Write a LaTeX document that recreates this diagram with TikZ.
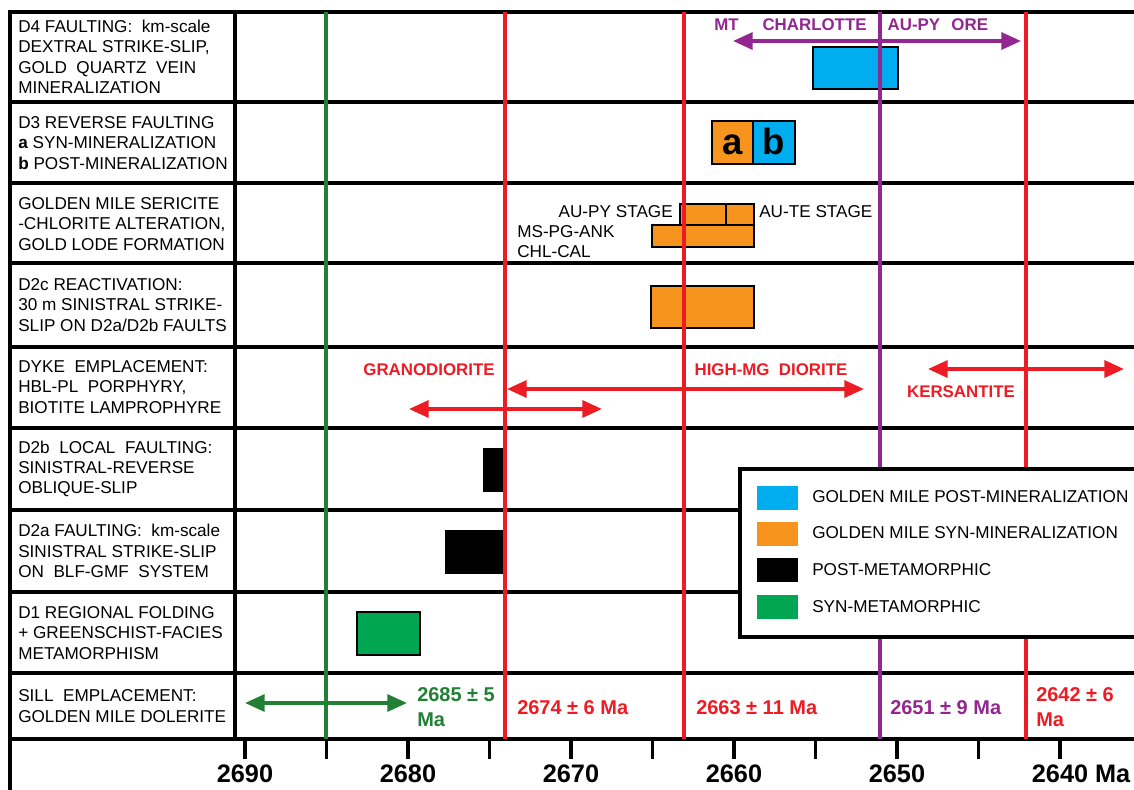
\documentclass[tikz,border=0pt]{standalone}
\usepackage{fontspec}
\setmainfont{Liberation Sans}
\usepackage{tikz}
\usepackage{xcolor}
\usetikzlibrary{arrows.meta}

\definecolor{postblue}{RGB}{0,174,239}
\definecolor{synorange}{RGB}{247,148,29}
\definecolor{metagreen}{RGB}{0,166,81}
\definecolor{sillgreen}{RGB}{34,128,52}
\definecolor{agered}{RGB}{237,28,36}
\definecolor{agepurple}{RGB}{146,39,143}

\begin{document}
\begin{tikzpicture}[
  x=0.025cm, y=-0.025cm,
  font=\fontsize{12.2}{14.5}\selectfont,
  grid/.style={line width=2.8pt, line cap=rect},
  age/.style={line width=2.2pt},
  bar/.style={draw, line width=1.4pt},
  rowtxt/.style={anchor=west, align=left, inner sep=0pt},
  txt/.style={inner sep=0pt},
  dbl/.style={line width=2.6pt, {Triangle[length=14pt,width=12pt]}-{Triangle[length=14pt,width=12pt]}},
  lab/.style={font=\bfseries\fontsize{12}{14}\selectfont, inner sep=0pt},
  date/.style={font=\bfseries\fontsize{14.2}{17.5}\selectfont, anchor=west, align=left, inner sep=0pt},
  axlab/.style={font=\bfseries\fontsize{18}{20}\selectfont, inner sep=0pt},
]
\useasboundingbox (0,0) rectangle (1134,790);
\clip (0,0) rectangle (1134,790);
\fill[white] (0,0) rectangle (1134,790);
% rows, frame, first column
\foreach \yy in {12,102,183,263,347,428,510,592,673,739}
  \draw[grid] (10,\yy) -- (1150,\yy);
\draw[grid] (10,12) -- (10,800);
\draw[grid] (235,12) -- (235,739);
% time axis
\foreach \i in {0,...,10}
  \draw[grid] (245+\i*81.5,739) -- ++(0,18);
\foreach \t [count=\i from 0] in {2690,2680,2670,2660,2650}
  \node[axlab] (tick\t) at (245+\i*163,774) {\t};
\node[axlab] (tick2640) at (1060,774) {2640\rlap{\ Ma}};
% events, left column
\node[rowtxt] (d4) at (18,57) {D4 FAULTING:\ \ km-scale\\DEXTRAL STRIKE-SLIP,\\GOLD\ \ QUARTZ\ \ VEIN\\MINERALIZATION};
\node[rowtxt] (d3) at (18,143) {D3 REVERSE FAULTING\\\textbf{a} SYN-MINERALIZATION\\\textbf{b} POST-MINERALIZATION};
\node[rowtxt] (lode) at (18,224) {GOLDEN MILE SERICITE\\-CHLORITE ALTERATION,\\GOLD LODE FORMATION};
\node[rowtxt] (d2c) at (18,305) {D2c REACTIVATION:\\30 m SINISTRAL STRIKE-\\SLIP ON D2a/D2b FAULTS};
\node[rowtxt] (dyke) at (18,387) {DYKE\ \ EMPLACEMENT:\\HBL-PL\ \ PORPHYRY,\\BIOTITE LAMPROPHYRE};
\node[rowtxt] (d2b) at (18,469) {D2b\ \ LOCAL\ \ FAULTING:\\SINISTRAL-REVERSE\\OBLIQUE-SLIP};
\node[rowtxt] (d2a) at (18,551) {D2a FAULTING:\ \ km-scale\\SINISTRAL STRIKE-SLIP\\ON\ \ BLF-GMF\ \ SYSTEM};
\node[rowtxt] (d1) at (18,633) {D1 REGIONAL FOLDING\\+ GREENSCHIST-FACIES\\METAMORPHISM};
\node[rowtxt] (sill) at (18,706) {SILL\ \ EMPLACEMENT:\\GOLDEN MILE DOLERITE};
% bars
\draw[bar, fill=postblue] (813,47) rectangle (898,89);
\draw[bar, fill=synorange] (712,121) rectangle (753,164);
\draw[bar, fill=postblue] (753,121) rectangle (795,164);
\node[font=\bfseries\fontsize{26}{28}\selectfont, anchor=base, inner sep=0pt] (d3a) at (732.5,154) {a};
\node[font=\bfseries\fontsize{26}{28}\selectfont, anchor=base, inner sep=0pt] (d3b) at (774,154) {b};
\draw[bar, fill=synorange] (680,204) rectangle (754,225);
\draw[bar] (726,204) -- (726,225);
\draw[bar, fill=synorange] (652,225) rectangle (754,247);
\node[txt, anchor=east] (aupy) at (673,212) {AU-PY STAGE};
\node[txt, anchor=west] (aute) at (759,212) {AU-TE STAGE};
\node[txt, anchor=west] (mspg) at (517,232) {MS-PG-ANK};
\node[txt, anchor=west] (chl) at (517,252) {CHL-CAL};
\draw[bar, fill=synorange] (651,286) rectangle (754,328);
\fill (483,448) rectangle (504,492);
\fill (445,530) rectangle (504,574);
\draw[bar, fill=metagreen] (357,612) rectangle (420,655);
% dated lines
\draw[age, sillgreen] (326,12) -- (326,739);
\draw[age, agered] (505,12) -- (505,739);
\draw[age, agered] (684,12) -- (684,739);
\draw[age, agepurple] (880,12) -- (880,739);
\draw[age, agered] (1026,12) -- (1026,739);
% ranges
\coordinate (mt-l) at (733,41);
\coordinate (mt-r) at (1021,41);
\draw[dbl, agepurple] (mt-l) -- (mt-r);
\node[lab, agepurple, anchor=west] (mtlab) at (714,25) {MT\hspace{17pt}CHARLOTTE\hspace{15pt}AU-PY\hspace{8pt}ORE};
\coordinate (gd-l) at (409,409);
\coordinate (gd-r) at (602,409);
\draw[dbl, agered] (gd-l) -- (gd-r);
\node[lab, agered] (gdlab) at (429,370) {GRANODIORITE};
\coordinate (hmd-l) at (507,389);
\coordinate (hmd-r) at (864,389);
\draw[dbl, agered] (hmd-l) -- (hmd-r);
\node[lab, agered] (hmdlab) at (771,370) {HIGH-MG\ \ DIORITE};
\coordinate (ker-l) at (928,369);
\coordinate (ker-r) at (1124,369);
\draw[dbl, agered] (ker-l) -- (ker-r);
\node[lab, agered] (kerlab) at (961,392) {KERSANTITE};
\coordinate (sill-l) at (245,703);
\coordinate (sill-r) at (407,703);
\draw[dbl, sillgreen] (sill-l) -- (sill-r);
% ages
\node[date, sillgreen] (a2685) at (417,707) {2685 ± 5\\Ma};
\node[date, agered] (a2674) at (517,708) {2674 ± 6 Ma};
\node[date, agered] (a2663) at (696,708) {2663 ± 11 Ma};
\node[date, agepurple] (a2651) at (890,708) {2651 ± 9 Ma};
\node[date, agered] (a2642) at (1036,707) {2642 ± 6\\Ma};
% legend
\draw[grid, fill=white] (740,469) rectangle (1150,637);
\fill[postblue] (757,486) rectangle (798,510);
\fill[synorange] (757,522) rectangle (798,546);
\fill[black] (757,558) rectangle (798,582);
\fill[metagreen] (757,595) rectangle (798,619);
\node[txt, anchor=west] (leg1) at (812,497) {GOLDEN MILE POST-MINERALIZATION};
\node[txt, anchor=west] (leg2) at (812,533) {GOLDEN MILE SYN-MINERALIZATION};
\node[txt, anchor=west] (leg3) at (812,570) {POST-METAMORPHIC};
\node[txt, anchor=west] (leg4) at (812,607) {SYN-METAMORPHIC};
\end{tikzpicture}
\end{document}
